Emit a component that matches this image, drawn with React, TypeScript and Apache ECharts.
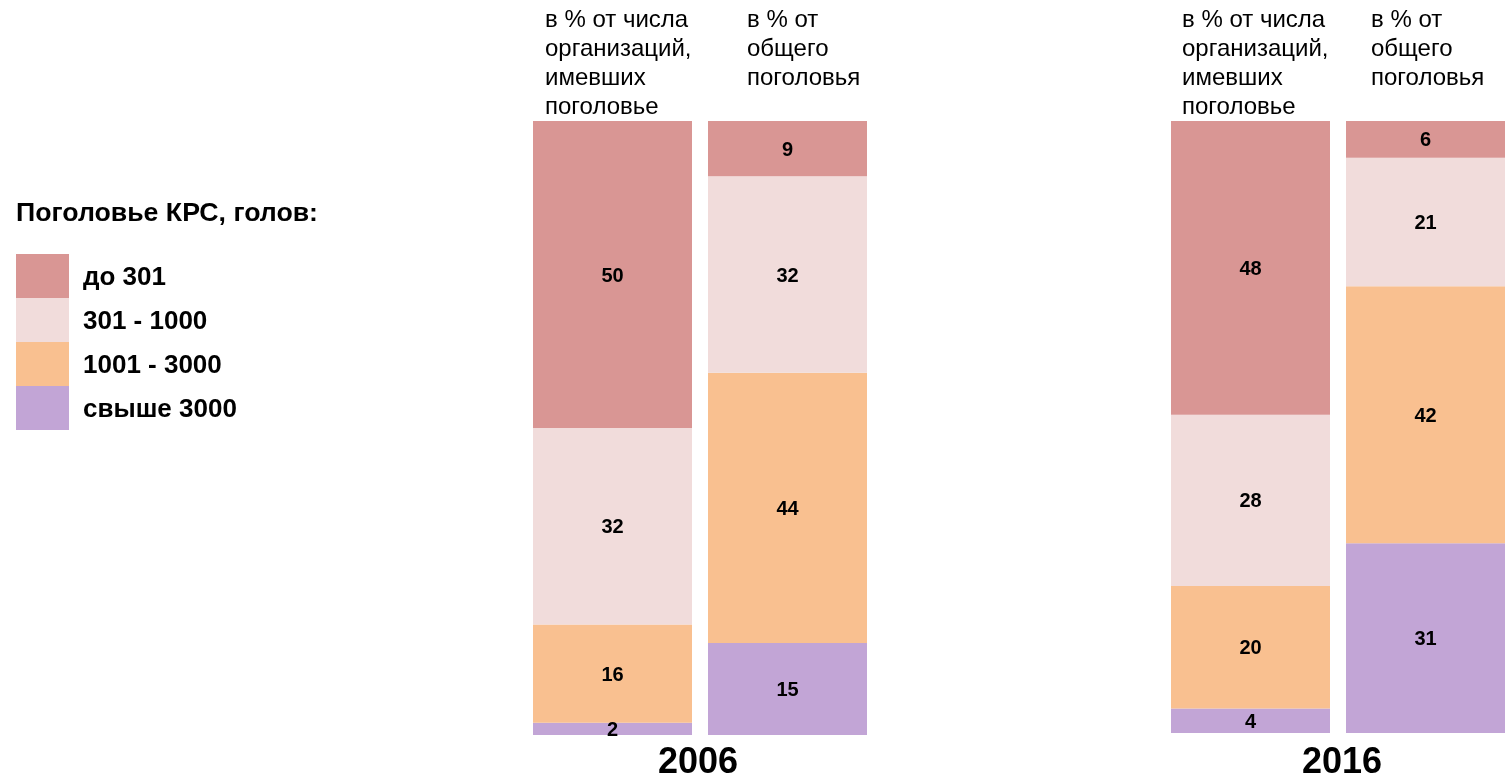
import React, { useEffect, useRef } from "react";
import * as echarts from "echarts";

const sizeGroups = ["до 301", "301 - 1000", "1001 - 3000", "свыше 3000"];
const groupColors = ["#D99694", "#F1DCDB", "#F9C090", "#C2A5D6"];
const barKinds = ["организации", "поголовье"];
const years = ["2006", "2016"];
// values per size group: [share of organisations, share of herd]
const values2006 = [
  [50, 9],
  [32, 32],
  [16, 44],
  [2, 15],
];
const values2016 = [
  [48, 6],
  [28, 21],
  [20, 42],
  [4, 31],
];
const headerOrg = "в % от числа\nорганизаций,\nимевших\nпоголовье";
const headerHerd = "в % от\nобщего\nпоголовья";
const legendTitle = "Поголовье КРС, голов:";

const FONT = "'Liberation Sans', Arial, sans-serif";

export default function App() {
  const ref = useRef<HTMLDivElement>(null);
  useEffect(() => {
    if (!ref.current) return;
    const chart = echarts.init(ref.current, null, { renderer: "svg" });
    const yearData = [values2006, values2016];
    const series: any[] = [];
    for (let g = 0; g < 2; g++) {
      for (let i = sizeGroups.length - 1; i >= 0; i--) {
        series.push({
          type: "bar",
          name: sizeGroups[i],
          xAxisIndex: g,
          yAxisIndex: g,
          stack: "s" + g,
          barWidth: 159,
          data: yearData[g][i],
          itemStyle: { color: groupColors[i] },
          label: {
            show: true,
            position: "inside",
            color: "#000",
            fontWeight: "bold",
            fontSize: 20,
            fontFamily: FONT,
          },
          emphasis: { disabled: true },
        });
      }
    }
    const titleText = (text: string, left: number, top: number, size: number, weight: string, lh: number, align?: string) => ({
      text,
      left,
      top,
      padding: 0,
      textAlign: align,
      textStyle: { fontSize: size, fontWeight: weight, color: "#000", fontFamily: FONT, lineHeight: lh },
    });
    chart.setOption({
      animation: false,
      title: [
        titleText(headerOrg, 545, 4, 24, "normal", 29),
        titleText(headerHerd, 747, 4, 24, "normal", 29),
        titleText(headerOrg, 1182, 4, 24, "normal", 29),
        titleText(headerHerd, 1371, 4, 24, "normal", 29),
        titleText(years[0], 698, 741, 36, "bold", 38, "center"),
        titleText(years[1], 1342, 741, 36, "bold", 38, "center"),
        titleText(legendTitle, 16, 197, 26.7, "bold", 30),
      ],
      legend: {
        orient: "vertical",
        left: 16,
        top: 254,
        padding: 0,
        itemGap: 0,
        itemWidth: 53,
        itemHeight: 44,
        icon: "rect",
        selectedMode: false,
        data: sizeGroups,
        textStyle: { fontSize: 26, fontWeight: "bold", color: "#000", fontFamily: FONT, padding: [0, 0, 0, 9] },
      },
      grid: [
        { left: 525, top: 121, width: 350, height: 614 },
        { left: 1163, top: 121, width: 350, height: 612 },
      ],
      xAxis: [0, 1].map((g) => ({
        type: "category",
        gridIndex: g,
        data: barKinds,
        show: false,
      })),
      yAxis: [0, 1].map((g) => ({
        type: "value",
        gridIndex: g,
        min: 0,
        max: 100,
        show: false,
      })),
      series,
    });
    return () => chart.dispose();
  }, []);
  return (
    <div style={{ position: "fixed", left: 0, top: 0, width: 1507, height: 784, overflow: "hidden" }}>
      <div ref={ref} style={{ width: 1540, height: 784 }} />
    </div>
  );
}
